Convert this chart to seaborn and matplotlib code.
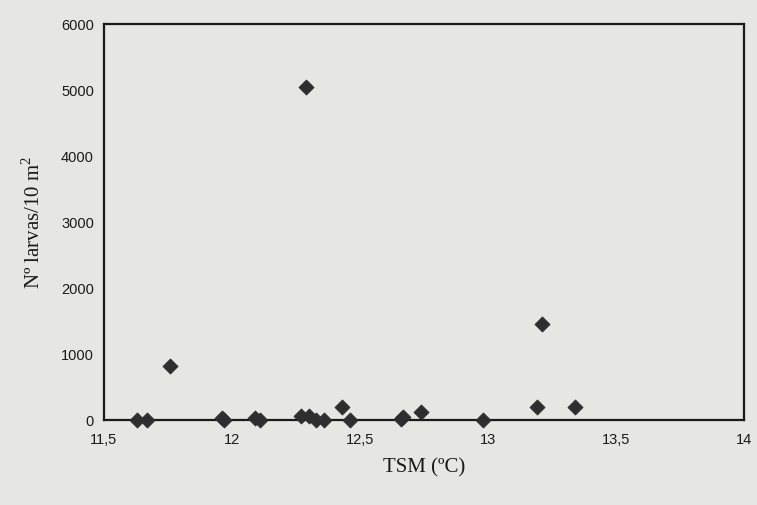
import matplotlib
matplotlib.use("Agg")
import matplotlib.pyplot as plt
import seaborn as sns
import pandas as pd
from matplotlib.ticker import FuncFormatter

# values
tsm = [11.63, 11.67, 11.76, 11.96, 11.97, 12.09, 12.11, 12.27, 12.29, 12.30,
       12.33, 12.36, 12.43, 12.46, 12.66, 12.67, 12.74, 12.98, 13.19, 13.21, 13.34]
larvas = [0, 0, 820, 40, 0, 40, 0, 60, 5050, 60,
          0, 0, 200, 0, 20, 50, 130, 0, 200, 1450, 200]

x_ticks = [11.5, 12, 12.5, 13, 13.5, 14]
y_ticks = [0, 1000, 2000, 3000, 4000, 5000, 6000]

df = pd.DataFrame({"tsm": tsm, "larvas": larvas})

sns.set_style("white")
plt.rcParams["mathtext.fontset"] = "custom"
plt.rcParams["mathtext.rm"] = "Liberation Serif"
bg = "#e6e6e2"

fig = plt.figure(figsize=(7.57, 5.05), dpi=100, facecolor=bg)
ax = fig.add_axes([0.137, 0.168, 0.846, 0.784])
ax.set_facecolor(bg)

sns.scatterplot(data=df, x="tsm", y="larvas", marker="D", s=60,
                color="#2e2e2e", edgecolor="#2e2e2e", linewidth=0.5, ax=ax, zorder=3)
for coll in ax.collections:
    coll.set_clip_on(False)

ax.set_xlim(11.5, 14)
ax.set_ylim(0, 6000)
ax.set_xticks(x_ticks)
ax.set_yticks(y_ticks)
ax.xaxis.set_major_formatter(FuncFormatter(lambda v, p: f"{v:g}".replace(".", ",")))
ax.yaxis.set_major_formatter(FuncFormatter(lambda v, p: f"{int(v)}"))

ax.tick_params(axis="both", direction="inout", length=7, width=1,
               labelsize=10.5, colors="#1a1a1a")
for lab in ax.get_xticklabels() + ax.get_yticklabels():
    lab.set_family("Liberation Sans")
ax.tick_params(axis="x", pad=6)

for sp in ax.spines.values():
    sp.set_visible(True)
    sp.set_color("#1a1a1a")
    sp.set_linewidth(1.6)

ax.set_xlabel("TSM (ºC)", fontsize=15, family="Liberation Serif", labelpad=8, color="#1a1a1a")
ax.set_ylabel("Nº larvas/10 m$^2$", fontsize=15, family="Liberation Serif", labelpad=12, color="#1a1a1a")

fig.savefig("out.png", dpi=100, facecolor=bg)
